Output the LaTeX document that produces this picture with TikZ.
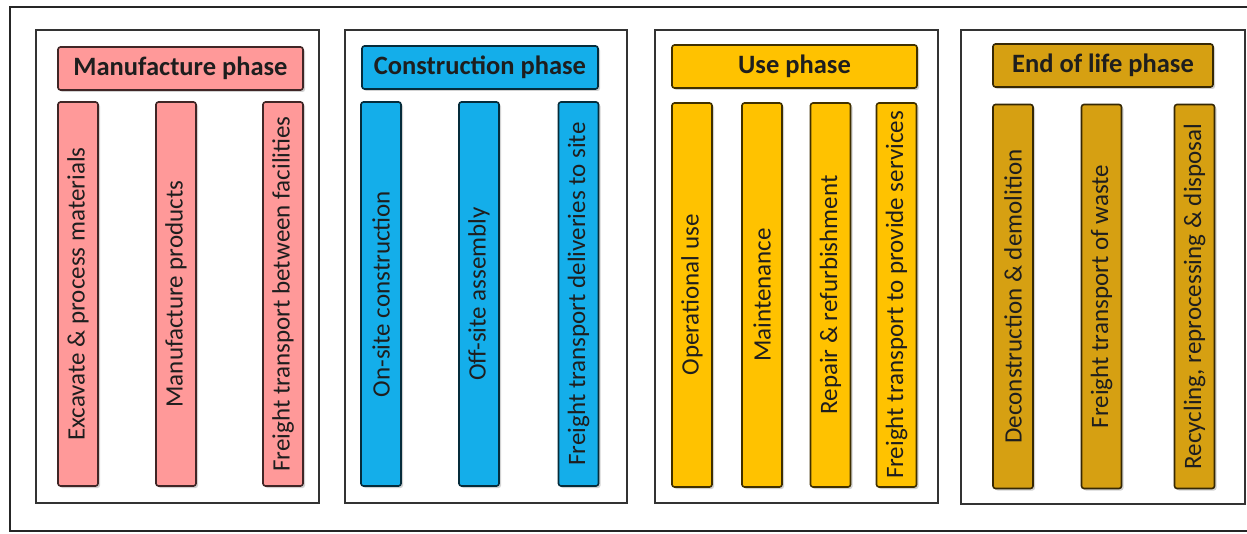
\documentclass[tikz,border=0pt]{standalone}
\usepackage{fontspec}
\setmainfont{Carlito}
\usetikzlibrary{shadows}
\definecolor{manuc}{RGB}{255,153,153}
\definecolor{consc}{RGB}{20,174,234}
\definecolor{usec}{RGB}{255,194,0}
\definecolor{endc}{RGB}{214,160,18}
\definecolor{txtc}{RGB}{30,30,30}
\begin{document}
\begin{tikzpicture}[x=1pt,y=-1pt,
  panel/.style={draw=black!80, line width=1.5pt, fill=white},
  header/.style={draw=#1!25!black, fill=#1, line width=1.6pt, rounded corners=2.5pt,
    minimum height=43pt, inner sep=0pt, font=\fontsize{26.5}{28}\selectfont\bfseries, text=txtc,
    drop shadow={shadow xshift=2pt, shadow yshift=-2pt, opacity=0.35}},
  bar/.style={draw=#1!25!black, fill=#1, line width=1.6pt, rounded corners=2.5pt,
    rotate=90, minimum height=40pt, minimum width=384pt, inner sep=0pt,
    font=\fontsize{25}{27}\selectfont, text=txtc,
    drop shadow={shadow xshift=2pt, shadow yshift=-2pt, opacity=0.35}}
]
\useasboundingbox (0,0) rectangle (1247,534);
\fill[white] (0,0) rectangle (1247,534);
\draw[line width=2pt, black!85] (1247,7) -- (10,7) -- (10,531) -- (1247,531);
% panels
\node[panel, minimum width=283pt, minimum height=473pt, inner sep=0pt] (p1) at (177.5,266.5) {};
\node[panel, minimum width=282pt, minimum height=473pt, inner sep=0pt] (p2) at (486,266.5) {};
\node[panel, minimum width=283pt, minimum height=473pt, inner sep=0pt] (p3) at (796.5,266.5) {};
\node[panel, minimum width=284pt, minimum height=474pt, inner sep=0pt] (p4) at (1103,267) {};
% headers
\node[header=manuc, minimum width=245pt] (h1) at (180.5,68.5) {Manufacture phase};
\node[header=consc, minimum width=236pt] (h2) at (480,67.5) {Construction phase};
\node[header=usec, minimum width=245pt] (h3) at (794.5,66.5) {Use phase};
\node[header=endc, minimum width=220pt] (h4) at (1103,65.5) {End of life phase};
% bars manufacture
\node[bar=manuc] (b11) at (78,294) {Excavate \& process materials};
\node[bar=manuc] (b12) at (176,294) {Manufacture products};
\node[bar=manuc] (b13) at (283,294) {Freight transport between facilities};
% construction
\node[bar=consc] (b21) at (381,294) {On-site construction};
\node[bar=consc] (b22) at (479,294) {Off-site assembly};
\node[bar=consc] (b23) at (578.5,294) {Freight transport deliveries to site};
% use
\node[bar=usec] (b31) at (692,295) {Operational use};
\node[bar=usec] (b32) at (762,295) {Maintenance};
\node[bar=usec] (b33) at (830.5,295) {Repair \& refurbishment};
\node[bar=usec] (b34) at (896.5,295) {Freight transport to provide services};
% end of life
\node[bar=endc] (b41) at (1013,296.5) {Deconstruction \& demolition};
\node[bar=endc] (b42) at (1101.5,296.5) {Freight transport of waste};
\node[bar=endc] (b43) at (1194.5,296.5) {Recycling, reprocessing \& disposal};
\end{tikzpicture}
\end{document}
